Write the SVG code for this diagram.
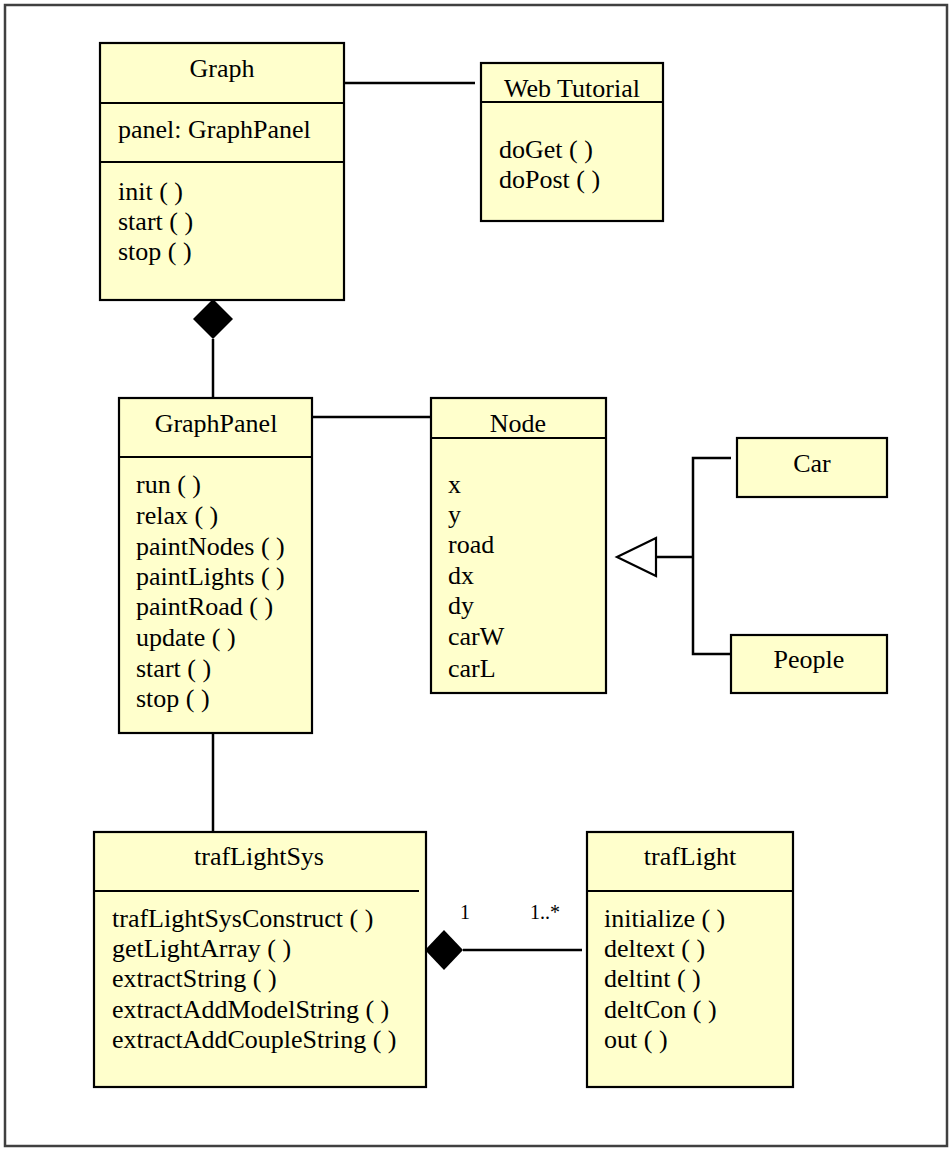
<svg xmlns="http://www.w3.org/2000/svg" width="951" height="1151" viewBox="0 0 951 1151">
<style>
.box{fill:#FFFFCC;stroke:#000;stroke-width:2.2}
.sep{stroke:#000;stroke-width:2.2}
.t{font-family:"Liberation Serif","Times New Roman",serif;font-size:26px;fill:#000}
.c{text-anchor:middle}
.m{font-family:"Liberation Serif","Times New Roman",serif;font-size:20px;fill:#000}
.ln{stroke:#000;stroke-width:2.5;fill:none}
</style>
<rect x="0" y="0" width="951" height="1151" fill="#fff"/>
<rect x="5" y="5" width="942" height="1141" fill="none" stroke="#404040" stroke-width="2.5"/>

<g id="connectors">
  <line class="ln" x1="344" y1="83" x2="475" y2="83"/>
  <line class="ln" x1="213" y1="339" x2="213" y2="398"/>
  <polygon points="213,299 233,319 213,339 193,319" fill="#000"/>
  <line class="ln" x1="312" y1="417" x2="431" y2="417"/>
  <polygon points="617,557 656,538 656,576" fill="#fff" stroke="#000" stroke-width="2.2"/>
  <line class="ln" x1="656" y1="557" x2="693" y2="557"/>
  <polyline class="ln" points="731,458 693,458 693,654 731,654"/>
  <line class="ln" x1="213" y1="733" x2="213" y2="832"/>
  <polygon points="425,950 444,930 463,950 444,970" fill="#000"/>
  <line class="ln" x1="463" y1="950" x2="582" y2="950"/>
  <text class="m c" x="465" y="919">1</text>
  <text class="m" x="530" y="919">1..*</text>
</g>

<g id="Graph">
  <rect class="box" x="100" y="43" width="244" height="257"/>
  <line class="sep" x1="100" y1="103" x2="344" y2="103"/>
  <line class="sep" x1="100" y1="162" x2="344" y2="162"/>
  <text class="t c" x="222" y="77">Graph</text>
  <text class="t" x="118" y="138">panel: GraphPanel</text>
  <text class="t" x="118" y="200">init ( )</text>
  <text class="t" x="118" y="230">start ( )</text>
  <text class="t" x="118" y="260">stop ( )</text>
</g>

<g id="WebTutorial">
  <rect class="box" x="481" y="63" width="182" height="158"/>
  <line class="sep" x1="481" y1="102" x2="663" y2="102"/>
  <text class="t c" x="572" y="97">Web Tutorial</text>
  <text class="t" x="499" y="158">doGet ( )</text>
  <text class="t" x="499" y="188">doPost ( )</text>
</g>

<g id="GraphPanel">
  <rect class="box" x="119" y="398" width="193" height="335"/>
  <line class="sep" x1="119" y1="457" x2="312" y2="457"/>
  <text class="t c" x="216" y="432">GraphPanel</text>
  <text class="t" x="136" y="493">run ( )</text>
  <text class="t" x="136" y="524">relax ( )</text>
  <text class="t" x="136" y="555">paintNodes ( )</text>
  <text class="t" x="136" y="585">paintLights ( )</text>
  <text class="t" x="136" y="615">paintRoad ( )</text>
  <text class="t" x="136" y="646">update ( )</text>
  <text class="t" x="136" y="677">start ( )</text>
  <text class="t" x="136" y="707">stop ( )</text>
</g>

<g id="Node">
  <rect class="box" x="431" y="398" width="175" height="295"/>
  <line class="sep" x1="431" y1="438" x2="606" y2="438"/>
  <text class="t c" x="518" y="432">Node</text>
  <text class="t" x="448" y="493">x</text>
  <text class="t" x="448" y="523">y</text>
  <text class="t" x="448" y="553">road</text>
  <text class="t" x="448" y="584">dx</text>
  <text class="t" x="448" y="614">dy</text>
  <text class="t" x="448" y="645">carW</text>
  <text class="t" x="448" y="677">carL</text>
</g>

<g id="Car">
  <rect class="box" x="737" y="438" width="150" height="59"/>
  <text class="t c" x="812" y="472">Car</text>
</g>

<g id="People">
  <rect class="box" x="731" y="635" width="156" height="58"/>
  <text class="t c" x="809" y="668">People</text>
</g>

<g id="trafLightSys">
  <rect class="box" x="94" y="832" width="332" height="255"/>
  <line class="sep" x1="94" y1="891" x2="419" y2="891"/>
  <text class="t c" x="259" y="865">trafLightSys</text>
  <text class="t" x="112" y="927">trafLightSysConstruct ( )</text>
  <text class="t" x="112" y="957">getLightArray ( )</text>
  <text class="t" x="112" y="987">extractString ( )</text>
  <text class="t" x="112" y="1018">extractAddModelString ( )</text>
  <text class="t" x="112" y="1048">extractAddCoupleString ( )</text>
</g>

<g id="trafLight">
  <rect class="box" x="587" y="832" width="206" height="255"/>
  <line class="sep" x1="587" y1="891" x2="793" y2="891"/>
  <text class="t c" x="690" y="865">trafLight</text>
  <text class="t" x="604" y="927">initialize ( )</text>
  <text class="t" x="604" y="957">deltext ( )</text>
  <text class="t" x="604" y="987">deltint ( )</text>
  <text class="t" x="604" y="1018">deltCon ( )</text>
  <text class="t" x="604" y="1048">out ( )</text>
</g>
</svg>
